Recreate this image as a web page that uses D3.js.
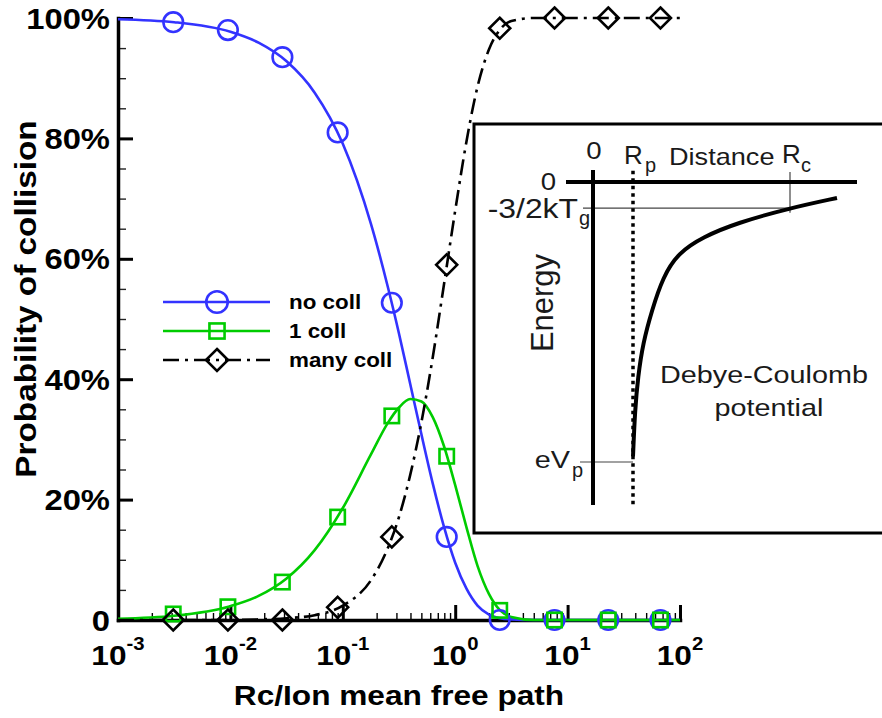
<!DOCTYPE html>
<html lang="en">
<head>
<meta charset="UTF-8">
<title>Probability of collision</title>
<script src="https://d3js.org/d3.v7.min.js"></script>
<style>
  body { margin: 0; background: #fff; }
  svg { display: block; font-family: "Liberation Sans", Arial, Helvetica, sans-serif; }
</style>
</head>
<body>
<script>
// marker positions (Rc / ion mean free path) and values in %
const markerX     = [0.0031, 0.0095, 0.029, 0.09, 0.273, 0.84, 2.49, 7.65, 23, 67];
const noCollPts   = [99.3, 98.0, 93.5, 81.0, 52.7, 13.8, 0, 0, 0, 0];
const oneCollPts  = [1.0, 2.2, 6.3, 17.1, 33.9, 27.2, 1.6, 0, 0, 0];
const manyCollPts = [0, 0, 0, 2.1, 13.8, 59.0, 98.3, 100, 100, 100];

// smooth curves, read at more positions
const curveX        = [0.001, 0.00316, 0.01, 0.0178, 0.0316, 0.0562, 0.1, 0.178, 0.251, 0.316, 0.398, 0.501, 0.631, 0.794, 1, 1.26, 1.58, 2, 2.51, 3.16, 5, 10, 100];
const noCollLine    = [99.8, 99.3, 97.7, 95.9, 92.8, 87.6, 79.1, 65.8, 55.4, 47.6, 39.2, 30.8, 22.7, 15.5, 9.5, 5.2, 2.4, 0.9, 0.3, 0.1, 0, 0, 0];
const oneCollLine   = [0.2, 0.7, 2.3, 4.0, 6.9, 11.6, 18.6, 27.5, 32.7, 35.3, 36.7, 36.3, 33.7, 28.9, 22.4, 15.4, 9.0, 4.3, 1.6, 0.5, 0, 0, 0];
const manyCollLine  = [0, 0, 0, 0.1, 0.3, 0.8, 2.4, 6.6, 11.9, 17.1, 24.1, 32.9, 43.6, 55.7, 68.0, 79.5, 88.6, 94.8, 98.1, 99.5, 100, 100, 100];

const seriesNames = ["no coll", "1 coll", "many coll"];
const yTicks = [0, 20, 40, 60, 80, 100];
const xTicks = [1e-3, 1e-2, 1e-1, 1, 10, 100];

// inset sketch: Debye-Coulomb potential (distance in Rp units, energy in arbitrary units)
const potDist   = [1.0, 1.0, 1.05, 1.125, 1.25, 1.475, 1.75, 2.125, 2.75, 3.6, 4.925, 6.1, 6.1];
const potEnergy = [-9.8, -9.8, -8.14, -6.96, -5.75, -4.57, -3.39, -2.54, -1.96, -1.46, -0.93, -0.57, -0.57];
const rp = 1, rc = 4.925, kTg = -0.93, eVp = -10;

const svg = d3.select("body").append("svg")
    .attr("width", 882)
    .attr("height", 718);

const x = d3.scaleLog().domain([1e-3, 1e2]).range([118, 680]);
const y = d3.scaleLinear().domain([0, 100]).range([620, 18]);

// text helper, glyphs a bit wider like the original
function label(parent, txt, tx, ty, o) {
    const t = parent.append("text")
        .attr("transform", `translate(${tx},${ty})` + (o.rot ? ` rotate(${o.rot})` : "") + ` scale(${o.sx || 1},${o.sy || 1})`)
        .attr("text-anchor", o.anchor || "start")
        .attr("font-size", o.size + "px")
        .attr("font-weight", o.weight || "normal")
        .attr("fill", o.fill || "#000");
    if (txt !== null) t.text(txt);
    return t;
}

// ---------- inset ----------
const inset = svg.append("g");
const ix = d3.scaleLinear().domain([0, 1]).range([593, 633]);
const iy = d3.scaleLinear().domain([0, -10]).range([182, 462]);
const ink = "#1a1a1a";

inset.append("rect")
    .attr("x", 474).attr("y", 124)
    .attr("width", 420).attr("height", 409)
    .attr("fill", "#fff").attr("stroke", "#000").attr("stroke-width", 3);

// thin guide lines
inset.append("line").attr("x1", ix(-0.25)).attr("x2", ix(rc)).attr("y1", iy(kTg)).attr("y2", iy(kTg))
    .attr("stroke", "#444").attr("stroke-width", 1.2);
inset.append("line").attr("x1", ix(rc)).attr("x2", ix(rc)).attr("y1", iy(0.36)).attr("y2", iy(-1.1))
    .attr("stroke", "#444").attr("stroke-width", 1.2);
inset.append("line").attr("x1", ix(-0.325)).attr("x2", ix(rp)).attr("y1", iy(eVp)).attr("y2", iy(eVp))
    .attr("stroke", "#444").attr("stroke-width", 1.2);

// axes of the sketch
inset.append("line").attr("x1", ix(0)).attr("x2", ix(0)).attr("y1", iy(0.43)).attr("y2", iy(-11.54))
    .attr("stroke", "#000").attr("stroke-width", 4);
inset.append("line").attr("x1", ix(-0.675)).attr("x2", ix(6.6)).attr("y1", iy(0)).attr("y2", iy(0))
    .attr("stroke", "#000").attr("stroke-width", 4);
inset.append("line").attr("x1", ix(rp)).attr("x2", ix(rp)).attr("y1", iy(0.4)).attr("y2", iy(-11.54))
    .attr("stroke", "#000").attr("stroke-width", 3.5).attr("stroke-dasharray", "3.5,4");

inset.append("path")
    .datum(potDist.map((d, i) => [d, potEnergy[i]]))
    .attr("d", d3.line().x(d => ix(d[0])).y(d => iy(d[1])).curve(d3.curveBasis))
    .attr("fill", "none").attr("stroke", "#000").attr("stroke-width", 4);

label(inset, "0", 594, 159, { size: 24, anchor: "middle", sx: 1.15, fill: ink });
label(inset, "R", 624, 164, { size: 26, fill: ink });
label(inset, "p", 645, 172, { size: 20, fill: ink });
label(inset, "Distance", 669, 165, { size: 24, sx: 1.13, fill: ink });
label(inset, "R", 782, 163, { size: 26, fill: ink });
label(inset, "c", 801, 172, { size: 20, fill: ink });
label(inset, "0", 556, 190, { size: 24, anchor: "end", sx: 1.15, fill: ink });
label(inset, "-3/2kT", 578, 218, { size: 27, anchor: "end", sx: 1.18, fill: ink });
label(inset, "g", 579, 225, { size: 20, fill: ink });
label(inset, "Energy", 553, 303, { size: 31, anchor: "middle", rot: -90, fill: ink });
label(inset, "Debye-Coulomb", 764, 383, { size: 24, anchor: "middle", sx: 1.2, fill: ink });
label(inset, "potential", 769, 416, { size: 24, anchor: "middle", sx: 1.2, fill: ink });
label(inset, "eV", 570, 468, { size: 24, anchor: "end", sx: 1.2, fill: ink });
label(inset, "p", 572, 477, { size: 20, fill: ink });

// ---------- axes ----------
const xMinor = x.ticks().filter(d => !xTicks.some(t => Math.abs(t - d) / t < 1e-9));
const yMinor = d3.range(0, 101, 5).filter(d => yTicks.indexOf(d) < 0);

const gx = svg.append("g").attr("transform", "translate(0,620)");
gx.append("g").call(d3.axisTop(x).tickValues(xMinor).tickSize(7).tickFormat(""))
    .call(g => g.select(".domain").remove())
    .selectAll("line").attr("stroke", "#000").attr("stroke-width", 1.4);
gx.append("g").call(d3.axisTop(x).tickValues(xTicks).tickSize(15).tickSizeOuter(0).tickFormat(""))
    .call(g => g.select(".domain").attr("stroke-width", 3.5).attr("stroke-linecap", "square"))
    .selectAll("line").attr("stroke", "#000").attr("stroke-width", 3);

const gy = svg.append("g").attr("transform", "translate(118,0)");
gy.append("g").call(d3.axisRight(y).tickValues(yMinor).tickSize(8).tickFormat(""))
    .call(g => g.select(".domain").remove())
    .selectAll("line").attr("stroke", "#222").attr("stroke-width", 1.4);
gy.append("g").call(d3.axisRight(y).tickValues(yTicks).tickSize(15).tickSizeOuter(0).tickFormat(""))
    .call(g => g.select(".domain").attr("stroke-width", 3.5).attr("stroke-linecap", "square"))
    .selectAll("line").attr("stroke", "#000").attr("stroke-width", 3);

// y tick labels
yTicks.forEach(v => {
    label(svg, v === 0 ? "0" : v + "%", 110, y(v) + 10.5, { size: 29, weight: "bold", anchor: "end", sx: 1.13 });
});

// x tick labels: 10 with superscript exponent
xTicks.forEach(v => {
    const t = label(svg, null, x(v), 665, { size: 28, weight: "bold", anchor: "middle", sx: 1.13 });
    t.append("tspan").text("10");
    t.append("tspan").attr("dy", -15).attr("font-size", "18px").text(Math.round(Math.log10(v)));
});

label(svg, "Rc/Ion mean free path", 399, 705, { size: 28, weight: "bold", anchor: "middle", sx: 1.13 });
label(svg, "Probability of collision", 36, 299, { size: 29.5, weight: "bold", anchor: "middle", rot: -90, sx: 1.13 });

// ---------- series ----------
const series = [
    { name: seriesNames[0], line: noCollLine, pts: noCollPts, color: "#3333ff", dash: null, shape: "circle" },
    { name: seriesNames[1], line: oneCollLine, pts: oneCollPts, color: "#00cc00", dash: null, shape: "square" },
    { name: seriesNames[2], line: manyCollLine, pts: manyCollPts, color: "#000", dash: "16,6,3,6", shape: "diamond" }
];

const lineGen = d3.line()
    .x(d => x(d[0]))
    .y(d => y(d[1]))
    .curve(d3.curveMonotoneX);

series.forEach(s => {
    svg.append("path")
        .datum(curveX.map((d, i) => [d, s.line[i]]))
        .attr("d", lineGen)
        .attr("fill", "none")
        .attr("stroke", s.color)
        .attr("stroke-width", 2.6)
        .attr("stroke-dasharray", s.dash);
});

function marker(parent, shape, cx, cy, color, k) {
    if (shape === "circle") {
        parent.append("circle").attr("cx", cx).attr("cy", cy).attr("r", 9.8 * k)
            .attr("fill", "none").attr("stroke", color).attr("stroke-width", 2.6);
    } else if (shape === "square") {
        const h = 7.2 * k;
        parent.append("rect").attr("x", cx - h).attr("y", cy - h).attr("width", 2 * h).attr("height", 2 * h)
            .attr("fill", "none").attr("stroke", color).attr("stroke-width", 2.6);
    } else {
        const h = 10.5 * k;
        parent.append("path")
            .attr("d", `M${cx},${cy - h}L${cx + h},${cy}L${cx},${cy + h}L${cx - h},${cy}Z`)
            .attr("fill", "none").attr("stroke", color).attr("stroke-width", 2.6);
    }
}

series.forEach(s => {
    const g = svg.append("g");
    markerX.forEach((d, i) => marker(g, s.shape, x(d), y(s.pts[i]), s.color, 1));
});

// ---------- legend ----------
const legend = svg.append("g");
series.forEach((s, i) => {
    const ly = 302 + i * 29;
    legend.append("line")
        .attr("x1", 163).attr("x2", 270).attr("y1", ly).attr("y2", ly)
        .attr("stroke", s.color).attr("stroke-width", 2.6)
        .attr("stroke-dasharray", s.dash);
    marker(legend, s.shape, 217, ly, s.color, s.shape === "circle" ? 1.1 : 1.05);
    label(legend, s.name, 289, ly + 7, { size: 20, weight: "bold", sx: 1.12 });
});
</script>
</body>
</html>
